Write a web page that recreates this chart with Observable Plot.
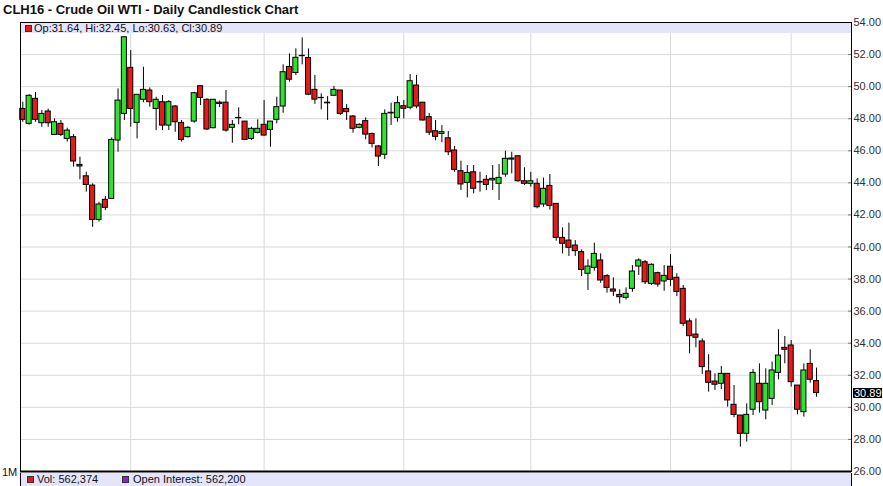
<!DOCTYPE html>
<html><head><meta charset="utf-8">
<script src="https://cdn.jsdelivr.net/npm/d3@7"></script>
<script src="https://cdn.jsdelivr.net/npm/@observablehq/plot@0.6"></script>
<style>
body{margin:0;background:#fff;font-family:"Liberation Sans",Arial,sans-serif;}
#wrap{position:relative;width:883px;height:486px;overflow:hidden;background:#fff;}
#title{height:20px;font-weight:bold;font-size:13px;line-height:20px;padding-left:3px;color:#111;white-space:nowrap;}
#chart svg{display:block;}
.abs{position:absolute;white-space:nowrap;}
.band{position:absolute;background:#e4e4fa;box-sizing:border-box;}
.txt{position:absolute;font-size:11px;line-height:11px;color:#111;white-space:nowrap;}
.sw{position:absolute;width:7px;height:7px;box-sizing:border-box;border:1px solid #333;}
</style></head><body>
<div id="wrap">
<div id="title">CLH16 - Crude Oil WTI - Daily Candlestick Chart</div>
<div id="chart"></div>
</div>
<script>
// Daily OHLC, CLH16, 7 Aug 2015 .. 5 Feb 2016 (index = trading day)
const opens = [48.61,47.68,49.24,47.72,48.45,46.99,47.68,46.74,46.85,45.12,44.41,43.83,41.69,42.94,43.00,46.64,48.30,51.17,47.74,49.18,
49.76,48.61,49.03,47.57,48.76,47.74,46.85,47.82,50.03,49.18,47.41,49.00,49.00,47.43,48.05,47.82,46.74,47.12,47.62,47.30,
47.93,48.76,51.23,50.85,51.90,51.79,49.80,49.30,49.00,49.43,49.76,48.61,48.14,47.43,47.85,47.05,46.27,45.75,48.33,48.05,
48.78,48.68,50.07,49.00,48.10,47.22,47.05,46.78,46.02,44.73,44.00,44.66,44.06,44.19,44.15,43.94,44.52,45.45,45.66,44.10,
43.94,43.94,42.65,43.81,42.69,40.57,40.40,40.09,39.68,38.33,38.70,39.16,38.18,37.35,37.01,36.83,37.39,38.78,39.05,37.70,
38.37,37.85,38.77,38.08,37.39,35.36,34.54,34.11,32.24,31.61,31.47,32.09,30.16,29.49,28.35,29.85,31.47,29.80,30.53,32.15,
33.71,33.86,31.36,29.70,32.71,31.64];
const highs = [49.03,49.50,49.63,48.51,48.60,47.99,47.89,47.41,47.01,45.60,44.66,43.94,42.79,43.15,46.80,49.86,53.10,52.25,49.50,51.21,
49.92,49.34,49.45,49.13,48.82,47.89,47.51,49.65,50.07,49.24,49.18,49.10,49.76,47.89,48.68,47.82,47.47,47.93,49.13,47.82,
49.34,51.36,52.04,52.36,53.04,52.35,50.70,49.55,49.38,50.01,49.76,48.88,48.20,47.68,48.05,47.10,46.33,48.55,48.97,49.38,
49.13,50.76,50.70,49.00,48.32,47.89,47.57,47.20,46.27,45.35,45.08,45.08,44.66,44.46,45.08,45.14,45.97,45.91,45.70,44.94,
44.66,44.25,44.30,44.52,42.69,41.19,41.49,40.40,39.82,39.20,40.24,39.57,38.28,38.07,37.33,37.45,38.84,39.26,39.16,38.95,
38.43,38.84,39.53,38.33,37.60,35.52,35.52,34.27,33.28,32.09,32.55,32.09,31.36,29.49,30.22,32.36,32.71,32.40,32.82,34.84,
34.42,34.17,31.36,32.71,33.59,32.45];
const lows = [47.78,47.60,47.78,47.47,47.47,46.95,46.89,46.54,44.98,44.19,43.42,41.23,41.55,42.27,43.00,45.91,47.89,47.47,46.74,49.00,
48.72,47.26,47.26,47.26,47.16,46.54,46.80,47.72,48.82,47.26,47.37,48.70,47.16,46.47,47.62,46.64,46.64,47.05,46.91,46.22,
47.68,48.34,50.28,50.69,51.36,49.44,48.90,48.55,47.89,49.38,48.20,47.89,47.10,47.37,46.68,46.18,45.02,45.45,47.58,47.78,
47.99,48.55,48.62,47.85,46.95,46.62,46.50,45.70,44.66,43.52,43.06,43.31,43.42,43.52,43.52,42.90,44.35,44.56,44.04,43.83,
43.73,42.38,42.48,42.30,40.36,39.57,39.41,39.41,38.16,37.29,38.49,37.74,37.12,36.91,36.45,36.70,37.18,38.22,37.66,37.60,
37.49,37.24,37.55,36.91,35.04,33.34,33.71,32.05,30.95,31.05,31.11,30.01,29.35,27.52,27.83,29.49,29.64,29.22,30.12,31.72,
32.71,31.26,29.53,29.39,31.51,30.63];
const closes = [47.93,49.43,47.93,48.30,47.72,47.78,46.99,47.26,45.33,45.02,43.87,41.69,42.65,42.44,46.68,49.13,53.08,48.61,49.49,49.80,
49.03,49.18,47.57,49.03,47.78,46.68,47.43,49.59,49.30,47.33,49.18,48.92,47.26,47.62,48.03,46.68,47.37,47.37,46.95,47.82,
48.72,50.90,50.43,51.80,51.92,49.50,49.19,49.28,48.96,49.80,48.30,48.41,47.37,47.62,47.01,46.43,45.64,48.30,48.37,48.97,
48.62,50.34,48.76,47.89,47.13,46.87,47.16,45.91,44.81,43.90,44.62,43.63,44.02,43.87,44.25,44.31,45.50,45.52,44.10,43.94,
44.10,42.48,43.63,42.56,40.57,40.20,39.95,39.74,38.57,38.78,39.57,37.91,37.45,37.22,36.87,37.08,38.47,39.16,37.80,38.89,
37.66,38.20,37.95,37.20,35.21,34.44,34.34,32.51,31.53,31.41,32.09,30.43,29.53,28.35,29.53,32.15,30.32,31.47,32.30,33.23,
33.59,31.57,29.85,32.30,31.72,30.89];
// first trading day of Sep, Oct, Nov, Dec, Jan, Feb
const monthStarts = [17, 38, 60, 80, 102, 121];
const yTicks = [26,28,30,32,34,36,38,40,42,44,46,48,50,52,54];
const legendTop = "Op:31.64, Hi:32.45, Lo:30.63, Cl:30.89";
const legendVol = "Vol: 562,374";
const legendOI = "Open Interest: 562,200";

const candles = opens.map((o, i) => ({i, open: o, high: highs[i], low: lows[i], close: closes[i]}));
const GREEN = "#2fe22f", RED = "#e31b1b";

const chart = Plot.plot({
  width: 883, height: 466,
  marginTop: 2, marginBottom: 15, marginLeft: 20, marginRight: 32,
  style: {fontFamily: "'Liberation Sans', Arial, sans-serif", fontSize: "11px", background: "#fff", color: "#222", overflow: "visible"},
  x: {domain: [-0.36, 130.5], axis: null},
  y: {domain: [26, 54], axis: null},
  marks: [
    Plot.gridY({ticks: yTicks, stroke: "#d9d9d9", strokeOpacity: 1}),
    Plot.ruleX(monthStarts, {stroke: "#d9d9d9", strokeOpacity: 1}),
    Plot.ruleX(candles, {x: "i", y1: "low", y2: "high", stroke: "#000", strokeWidth: 1}),
    Plot.rect(candles, {x1: d => d.i - 0.4, x2: d => d.i + 0.4, y1: "open", y2: "close",
      fill: d => d.close >= d.open ? GREEN : RED, stroke: "#000", strokeWidth: 1}),
    Plot.axisY({anchor: "right", ticks: yTicks, tickSize: 4, dx: -4, tickFormat: () => "", label: null, stroke: "#777"}),
    Plot.axisY({anchor: "right", ticks: yTicks, tickSize: 0, tickPadding: 2, tickFormat: d => d.toFixed(2), label: null, fontSize: 11, fill: "#333"}),
    Plot.frame({stroke: "#000"}),
    Plot.ruleY([26], {stroke: "#000", strokeWidth: 2})
  ]
});
document.getElementById("chart").appendChild(chart);

const wrap = document.getElementById("wrap");
function add(html) { wrap.insertAdjacentHTML("beforeend", html); }
// top legend band
add(`<div class="band" style="left:21px;top:23px;width:830px;height:10px;"></div>`);
add(`<div class="sw" style="left:25px;top:25px;background:${RED};"></div>`);
add(`<div class="txt" style="left:34px;top:23px;">${legendTop}</div>`);
// bottom legend band
add(`<div class="band" style="left:20px;top:473px;width:832px;height:13px;border-left:1px solid #000;border-right:1px solid #000;"></div>`);
add(`<div class="sw" style="left:27px;top:476px;background:${RED};"></div>`);
add(`<div class="txt" style="left:37px;top:474px;">${legendVol}</div>`);
add(`<div class="sw" style="left:122px;top:476px;background:#8a1ee0;"></div>`);
add(`<div class="txt" style="left:133px;top:474px;">${legendOI}</div>`);
add(`<div class="txt" style="left:2px;top:467px;">1M</div>`);
// last price marker
const last = candles[candles.length - 1];
const yl = 20 + chart.scale("y").apply(last.close);
add(`<div class="txt" style="left:853px;top:${Math.round(yl - 5)}px;height:10px;line-height:10px;width:28px;background:#000;color:#fff;padding-left:1px;">${last.close.toFixed(2)}</div>`);
</script>
</body></html>
